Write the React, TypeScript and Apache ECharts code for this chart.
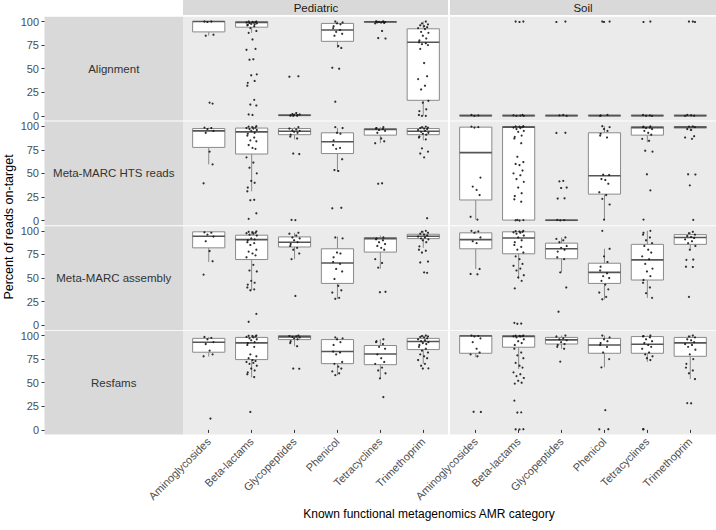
import React, { useEffect, useRef } from "react";
import * as echarts from "echarts";

// ---------- data ----------
const CATEGORIES = ["Aminoglycosides", "Beta-lactams", "Glycopeptides", "Phenicol", "Tetracyclines", "Trimethoprim"];
const FACETS = ["Pediatric", "Soil"];
const ROW_NAMES = ["Alignment", "Meta-MARC HTS reads", "Meta-MARC assembly", "Resfams"];
const Y_TICKS = [0, 25, 50, 75, 100];
const X_TITLE = "Known functional metagenomics AMR category";
const Y_TITLE = "Percent of reads on-target";

// box stats per category: [lower whisker, Q1, median, Q3, upper whisker]
const alignmentPediatricBoxes = [
  [85, 89, 100, 100, 100], [88, 94, 99, 100, 100], [0, 0.2, 0.6, 1.2, 2.5],
  [72, 79, 91, 98, 100], [98, 99, 99.7, 100, 100], [0, 16.5, 78, 92.3, 100],
];
const alignmentSoilBoxes = [
  [0, 0, 0.3, 0.8, 1.2], [0, 0, 0.3, 0.8, 1.2], [0, 0, 0.3, 0.8, 1.2],
  [0, 0, 0.3, 0.8, 1.2], [0, 0, 0.3, 0.8, 1.2], [0, 0, 0.3, 0.8, 1.2],
];
const htsPediatricBoxes = [
  [59.5, 77.5, 95, 97.5, 98.5], [31, 70.5, 94, 98, 100], [86, 91, 94.7, 97.5, 99],
  [52, 71, 83.5, 93, 98], [82, 90.5, 96.5, 97.5, 99], [85, 91, 94.7, 97.5, 99.5],
];
const htsSoilBoxes = [
  [1, 21.8, 72, 99, 99.5], [0, 0.5, 99, 99.6, 100], [0, 0, 0.3, 0.8, 1.2],
  [0, 28, 47.5, 93, 100], [83, 90.5, 98.5, 99.5, 100], [95, 98, 99, 99.6, 100],
];
const assemblyPediatricBoxes = [
  [67, 82, 94.3, 99, 99.5], [37, 69.6, 90.7, 95.4, 99.5], [70, 82.9, 88, 93.6, 98],
  [28, 44.3, 66, 81, 94], [60, 77.5, 91.8, 92.9, 95], [82, 91.8, 94.3, 96.4, 100],
];
const assemblySoilBoxes = [
  [59.6, 81, 90.7, 97.9, 100], [49, 75.7, 92.5, 99, 100], [56, 70.4, 81, 87, 93],
  [27.5, 44.3, 56, 65.7, 81], [29, 47.9, 69.3, 85.7, 100], [81, 85.7, 92.9, 96, 98.5],
];
const resfamsPediatricBoxes = [
  [77.7, 82.3, 92.9, 97, 98.5], [55.7, 74.5, 92.2, 98, 100], [88.7, 95.7, 98.6, 100, 100],
  [58, 70.2, 83, 95.7, 98], [54.6, 69.1, 80.5, 89.4, 96], [70, 85.1, 93.6, 97, 100],
];
const resfamsSoilBoxes = [
  [77, 81.2, 99.5, 100, 100], [64.5, 87.6, 99, 100, 100], [86, 91, 95.4, 98, 100],
  [66.3, 81.2, 90, 97, 100], [72, 81.2, 90.8, 98.9, 100], [53.9, 78, 92.2, 98, 100],
];

// individual samples per category
const alignmentPediatricPoints = [
  [100, 100, 99.5, 86, 85, 14, 13],
  [100, 100, 99.6, 99.3, 99, 98.8, 98.5, 98, 97.5, 97, 96.5, 96, 95, 93, 90, 88, 81, 71, 70, 60, 59.5, 44, 43, 37, 35, 32, 17, 12, 11, 1.5, 1],
  [42, 41.5, 3, 2, 1.5, 1, 0.8, 0.5, 0.3, 0.2, 0],
  [100, 99, 98, 97, 95, 93, 91, 89, 87, 85, 74, 72, 51, 50, 15],
  [100, 100, 100, 99.8, 99.6, 99.5, 99.2, 99, 98.5, 98, 90, 82.5, 82],
  [100, 98, 97, 96, 95, 94, 93, 92, 89, 88, 85, 82, 80, 78, 77, 76, 75, 71, 56, 42, 39, 32, 28, 16, 14, 7, 5, 1, 0, 0],
];
const alignmentSoilPoints = [
  [1, 0.5, 0],
  [100, 100, 99.5, 1, 0.6, 0.3, 0, 0],
  [100, 99.5, 1, 0.5, 0],
  [100, 100, 99.5, 1, 0.5, 0],
  [100, 99.5, 1, 0.5, 0.2, 0],
  [100, 100, 99.5, 1, 0.6, 0.2, 0],
];
const htsPediatricPoints = [
  [98.5, 98, 97, 95, 93, 73, 59.5, 39.5],
  [100, 99.5, 99, 98.5, 98, 97.5, 97, 96, 95, 93, 92, 90, 88, 85, 84, 80, 77, 76, 67, 61.5, 56, 50, 42, 40, 35, 31, 22, 21.5, 7.7, 1.8],
  [99, 97.5, 96.5, 95.5, 95, 94, 93, 91, 89, 87, 71, 70.5, 0.7, 0.5],
  [99, 98, 93, 92, 85, 80, 77, 76, 65, 53.5, 52.5, 13.5, 13],
  [99, 98, 97.5, 97, 96, 95, 93, 87, 84, 82, 39.5, 39],
  [99.5, 99, 98.5, 98, 97.5, 97, 96, 95, 94, 93, 92, 91, 89, 88, 86, 76.5, 73, 71, 67, 2.5],
];
const htsSoilPoints = [
  [99.5, 99, 98.5, 45.5, 36, 32.5, 27, 4, 1],
  [100, 99.8, 99.5, 99, 98.5, 98, 97, 95, 94, 90, 88.7, 87, 82, 67.6, 62, 60, 58.8, 53, 50, 48, 44, 41, 35, 29, 26, 22.5, 20, 0.7, 0.5, 0.3, 0],
  [93, 92.8, 42, 41.5, 35, 34.5, 23.6, 23.3, 0.7, 0.5, 0.2],
  [100, 99, 97, 95, 92, 90, 88, 48.6, 48.3, 44, 43, 39, 30, 27, 23, 17, 1],
  [99.8, 99.5, 99, 98.5, 98, 97, 95, 93, 91, 86.6, 84.5, 74, 73, 49, 32, 1],
  [99.8, 99.5, 99, 97, 96, 89.4, 88, 86.6, 49, 48.8, 37.3, 0.7],
];
const assemblyPediatricPoints = [
  [98.5, 98, 96, 94, 89, 78.6, 67.8, 53.6],
  [99.5, 99, 98.5, 98, 97.5, 97, 96, 95, 92, 91, 90, 88, 87, 85, 80, 78, 76, 74, 72, 64, 58, 57, 47, 45, 43, 40, 38, 37, 12, 3.6],
  [98, 97, 95, 93, 92, 90, 88, 86, 84, 82, 80, 76, 70, 31],
  [93, 92, 77, 76, 72, 67, 65, 59.6, 57, 49, 41.8, 37, 34.6, 29, 28],
  [93, 92, 91, 90, 88, 86, 84, 82, 80, 70, 66, 61, 35.4, 35],
  [100, 99, 98, 97, 96, 95, 94, 93, 92, 91, 90, 88, 83.6, 80, 79, 77, 67.5, 66.5, 56, 55.5],
];
const assemblySoilPoints = [
  [100, 99.5, 98, 93, 89, 87, 59.6, 54.3, 54],
  [100, 99.7, 99.3, 99, 98.5, 98, 97, 95, 93, 90, 88, 85, 83, 80, 77, 73, 70, 65, 63, 60, 58, 53, 50.7, 47, 39, 2.5, 1.8, 1.5],
  [93, 91.5, 90, 88, 84, 82, 80, 78, 72, 70, 56, 40, 14.3],
  [100, 81, 73, 67, 62, 58, 55, 52, 50, 47, 43, 38, 34.6, 30, 27.5],
  [100, 98, 96, 93, 90, 87, 84, 80, 77, 73, 70, 65, 60, 57, 52, 48, 45, 40, 34, 29],
  [99, 97.5, 96, 94.5, 93.5, 92.5, 91, 89, 87, 84, 80, 69.6, 69.3, 62, 61.7, 30],
];
const resfamsPediatricPoints = [
  [98.5, 97.5, 96, 93, 91, 84, 80, 78, 12],
  [100, 99.7, 99.5, 99, 98.5, 98, 97, 96, 95, 93, 92, 90, 88, 80, 78, 76, 74, 73, 72, 71, 70, 68, 65, 63, 61, 59, 56, 19],
  [100, 99.5, 99, 98.5, 98, 97, 96, 94, 92, 88.7, 65, 64.8],
  [98, 97, 96, 93, 90, 83, 82, 80, 72, 70, 67, 65, 62, 60, 58],
  [96, 94, 93, 91, 88, 86, 80, 76, 72, 70, 66, 63, 60, 54.6, 34.8],
  [100, 99.5, 99, 98.5, 98, 97, 96, 95, 94, 93, 92, 91, 90, 88, 86, 84, 82, 80, 78, 76, 74, 70, 68, 65.2, 65],
];
const resfamsSoilPoints = [
  [100, 99.5, 99, 97, 93, 86, 82, 80, 78, 19.2, 19],
  [100, 99.8, 99.6, 99.4, 99.2, 99, 98, 96, 94, 92, 90, 86, 82, 79, 76, 71, 68, 66, 61, 59, 57, 55, 52, 50, 49, 31, 18.6, 18.4, 0.7, 0.6, 0.5],
  [100, 99, 97, 96, 95, 93, 91, 90, 88, 86, 72.3],
  [100, 98, 96, 94, 92, 90, 88, 82, 75, 66.3, 20.9, 0.7, 0.6],
  [100, 99.5, 99, 98, 96, 94, 92, 90, 88, 86, 82, 80, 78, 76, 74, 0.7, 0.6],
  [100, 99, 98, 96, 95, 93, 91, 90, 88, 85, 80, 75, 70, 66, 63, 60, 53.9, 28.4, 28.2],
];

const BOXES = [
  [alignmentPediatricBoxes, alignmentSoilBoxes],
  [htsPediatricBoxes, htsSoilBoxes],
  [assemblyPediatricBoxes, assemblySoilBoxes],
  [resfamsPediatricBoxes, resfamsSoilBoxes],
];
const POINTS = [
  [alignmentPediatricPoints, alignmentSoilPoints],
  [htsPediatricPoints, htsSoilPoints],
  [assemblyPediatricPoints, assemblySoilPoints],
  [resfamsPediatricPoints, resfamsSoilPoints],
];

// ---------- layout / style ----------
const JITTER = [-0.1, 0.06, -0.03, 0.11, -0.07, 0.02, 0.09, -0.12, 0.04, -0.05, 0.12, -0.01, 0.07, -0.09];
const ROW_TOP0 = 16.8;
const ROW_PITCH = 104.67;
const ROW_H = 103.8;
const LABEL_LEFT = 44.5;
const LABEL_W = 138.5;
const PANEL_LEFT = [183, 450];
const PANEL_W = 266;
const STRIP_H = 15;
const FONT = '"Liberation Sans", Arial, sans-serif';
const BOX_STROKE = "#8a8a8a";
const MED_STROKE = "#555555";

function renderBox(params: any, api: any) {
  const x = api.value(0);
  const lo = api.coord([x, api.value(1)]);
  const q1 = api.coord([x, api.value(2)]);
  const med = api.coord([x, api.value(3)]);
  const q3 = api.coord([x, api.value(4)]);
  const hi = api.coord([x, api.value(5)]);
  const w = api.size([0.75, 0])[0];
  const cx = q1[0];
  return {
    type: "group",
    children: [
      { type: "line", shape: { x1: cx, y1: q1[1], x2: cx, y2: lo[1] }, style: { stroke: BOX_STROKE, lineWidth: 1 } },
      { type: "line", shape: { x1: cx, y1: q3[1], x2: cx, y2: hi[1] }, style: { stroke: BOX_STROKE, lineWidth: 1 } },
      {
        type: "rect",
        shape: { x: cx - w / 2, y: q3[1], width: w, height: Math.max(q1[1] - q3[1], 0.5) },
        style: { fill: "#ffffff", stroke: BOX_STROKE, lineWidth: 1 },
      },
      { type: "line", shape: { x1: cx - w / 2, y1: med[1], x2: cx + w / 2, y2: med[1] }, style: { stroke: MED_STROKE, lineWidth: 1.6 } },
    ],
  };
}

export default function App() {
  const ref = useRef<HTMLDivElement>(null);
  useEffect(() => {
    const chart = echarts.init(ref.current!, null, { renderer: "svg" });
    const grids: any[] = [];
    const xAxes: any[] = [];
    const yAxes: any[] = [];
    const series: any[] = [];
    const graphics: any[] = [];

    FACETS.forEach((facet, f) => {
      graphics.push({
        type: "rect", z: -1,
        shape: { x: PANEL_LEFT[f], y: 0, width: PANEL_W - (f === 0 ? 1 : 0), height: STRIP_H },
        style: { fill: "#d9d9d9" },
      });
      graphics.push({
        type: "text", z: 10,
        x: PANEL_LEFT[f] + PANEL_W / 2, y: STRIP_H / 2 + 0.5,
        style: { text: facet, fill: "#1a1a1a", font: `11.5px ${FONT}`, textAlign: "center", textVerticalAlign: "middle" },
      });
    });

    ROW_NAMES.forEach((rowName, r) => {
      const top = ROW_TOP0 + r * ROW_PITCH;
      graphics.push({
        type: "rect", z: -1,
        shape: { x: LABEL_LEFT, y: top, width: LABEL_W, height: ROW_H },
        style: { fill: "#d9d9d9" },
      });
      graphics.push({
        type: "text", z: 10,
        x: LABEL_LEFT + LABEL_W / 2, y: top + ROW_H / 2,
        style: { text: rowName, fill: "#333333", font: `11.5px ${FONT}`, textAlign: "center", textVerticalAlign: "middle" },
      });
      const gl = grids.length;
      grids.push({ left: LABEL_LEFT, top, width: LABEL_W, height: ROW_H, show: false });
      xAxes.push({ gridIndex: gl, type: "value", show: false, min: 0, max: 1 });
      yAxes.push({
        gridIndex: gl, type: "value", min: -5, max: 105,
        axisLine: { show: false },
        splitLine: { show: false },
        axisTick: { show: true, length: 3, customValues: Y_TICKS, lineStyle: { color: "#333333", width: 1 } },
        axisLabel: { customValues: Y_TICKS, margin: 5.5, color: "#4d4d4d", fontSize: 11, fontFamily: FONT },
      });

      FACETS.forEach((facet, f) => {
        const pl = PANEL_LEFT[f];
        graphics.push({
          type: "rect", z: -1,
          shape: { x: pl, y: top, width: PANEL_W - (f === 0 ? 1 : 0), height: ROW_H },
          style: { fill: "#ebebeb" },
        });
        const s = PANEL_W / 6.2;
        const gi = grids.length;
        grids.push({ left: pl + 0.1 * s, top, width: PANEL_W - 0.2 * s, height: ROW_H, show: false });
        const bottom = r === ROW_NAMES.length - 1;
        xAxes.push({
          gridIndex: gi, type: "category", data: CATEGORIES, boundaryGap: true, position: "bottom",
          axisLine: { show: false },
          splitLine: { show: false },
          axisTick: { show: bottom, alignWithLabel: true, length: 3, lineStyle: { color: "#333333", width: 1 } },
          axisLabel: { show: bottom, rotate: 45, margin: 5, color: "#4d4d4d", fontSize: 11, fontFamily: FONT, interval: 0 },
        });
        const vx = xAxes.length;
        xAxes.push({ gridIndex: gi, type: "value", min: -0.5, max: 5.5, show: false, position: "top" });
        const yi = yAxes.length;
        yAxes.push({ gridIndex: gi, type: "value", min: -5, max: 105, show: false });

        series.push({
          type: "custom", xAxisIndex: vx, yAxisIndex: yi, z: 2, silent: true,
          renderItem: renderBox,
          encode: { x: 0, y: [1, 2, 3, 4, 5] },
          data: BOXES[r][f].map((b, i) => [i, ...b]),
        });
        const pts: number[][] = [];
        POINTS[r][f].forEach((vals, i) => {
          vals.forEach((v, k) => pts.push([i + JITTER[(k + i * 3) % JITTER.length], v]));
        });
        series.push({
          type: "scatter", xAxisIndex: vx, yAxisIndex: yi, z: 3, silent: true,
          symbol: "circle", symbolSize: 2.2,
          itemStyle: { color: "#1a1a1a", opacity: 0.9 },
          data: pts,
        });
      });
    });

    graphics.push({
      type: "text", z: 10, x: 429, y: 514,
      style: { text: X_TITLE, fill: "#000000", font: `12px ${FONT}`, textAlign: "center", textVerticalAlign: "middle" },
    });
    graphics.push({
      type: "text", z: 10, x: 9, y: 227, rotation: Math.PI / 2,
      style: { text: Y_TITLE, fill: "#000000", font: `12.5px ${FONT}`, textAlign: "center", textVerticalAlign: "middle" },
    });

    chart.setOption({
      animation: false,
      backgroundColor: "#ffffff",
      grid: grids,
      xAxis: xAxes,
      yAxis: yAxes,
      series,
      graphic: { elements: graphics },
    });
    return () => chart.dispose();
  }, []);
  return <div ref={ref} style={{ width: 716, height: 530, position: "absolute", left: 0, top: 0 }} />;
}
